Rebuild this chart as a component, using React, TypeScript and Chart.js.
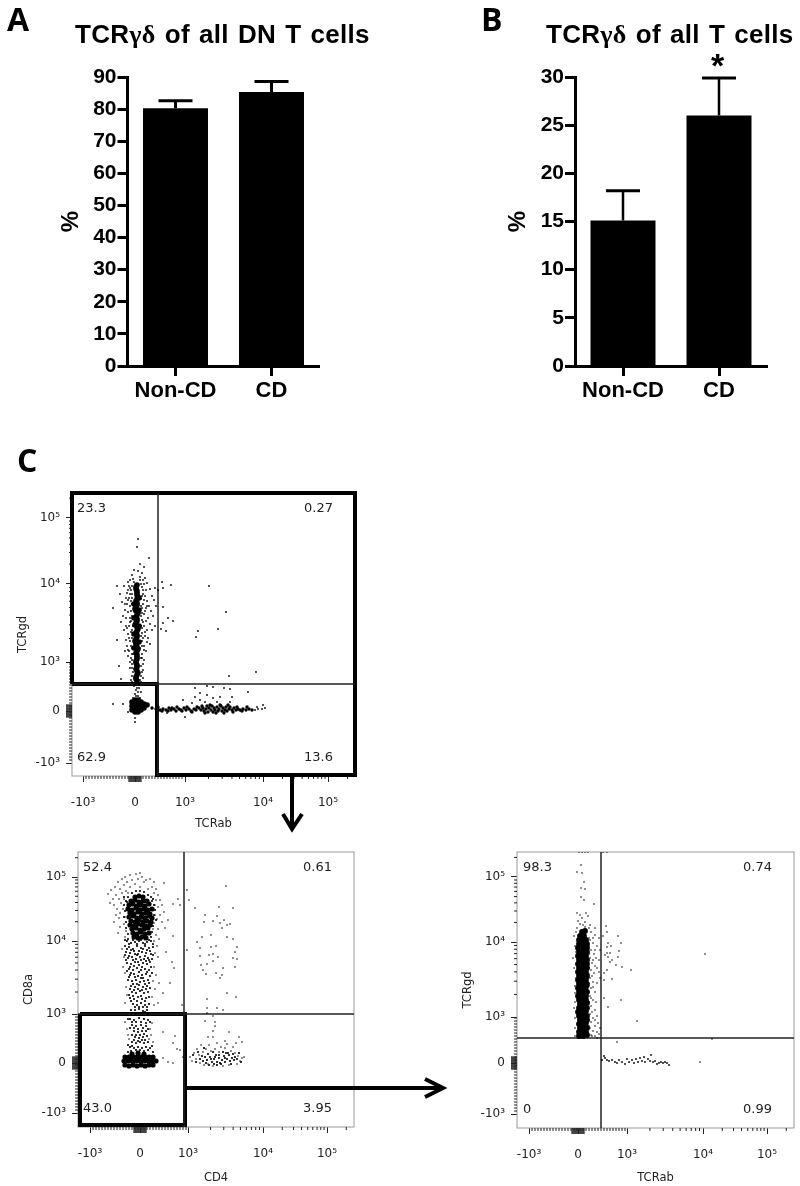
import React, { useEffect, useRef } from "react";
import { Chart, registerables } from "chart.js";

Chart.register(...registerables);

/* ---------- bar panels ---------- */
const barCategories = ["Non-CD", "CD"];
const panelAValues = [80.3, 85.3];
const panelAUpper = [82.6, 88.6];
const panelATicks = [0, 10, 20, 30, 40, 50, 60, 70, 80, 90];
const panelBValues = [15.1, 26.0];
const panelBUpper = [18.2, 29.9];
const panelBTicks = [0, 5, 10, 15, 20, 25, 30];

/* ---------- flow panels: values are display channels on the biexponential axes ---------- */
const flowTickLabels = ["-10³", "0", "10³", "10⁴", "10⁵"];
const p1XTicks = [11, 63, 113, 191, 256];
const p1YTicks = [13, 65, 114, 192, 258];
const p2XTicks = [12, 62, 110, 185, 249];
const p2YTicks = [14, 64, 113, 186, 250];
const p3XTicks = [12, 61, 110, 186, 250];
const p3YTicks = [14, 65, 111, 186, 251];

const p1QuadLabels = ["23.3", "0.27", "62.9", "13.6"];
const p2QuadLabels = ["52.4", "0.61", "43.0", "3.95"];
const p3QuadLabels = ["98.3", "0.74", "0", "0.99"];

const p1Core = [
  [65,95],[64,99],[66,103],[64,107],[65,111],[64,115],[65,119],[64,123],[66,127],[64,131],[63,135],[65,139],[64,143],[66,147],[63,151],[65,155],[64,159],[66,163],[63,167],[65,171],[64,175],[66,179],[65,183],[64,187],
  [64,97],[65,101],[65,105],[65,109],[64,113],[65,117],[65,121],[65,125],[65,129],[64,133],[64,137],[65,141],[65,145],[65,149],[64,153],[65,157],[65,161],[64,165],[64,169],[65,173],[65,177],[65,181],[65,185],[64,189],[65,191],
  [62,128],[67,134],[62,142],[67,150],[62,158],[67,166],[62,172],[67,178],
  [60,66],[60,70],[60,74],[63,64],[63,68],[63,72],[63,76],[66,64],[66,68],[66,72],[66,76],[69,66],[69,70],[69,74],[72,68],[72,72],[75,71],
];
const p1Tail = [
  [80,68],[84,67],[88,66],[91,67],[94,66],[97,68],[99,66],[102,67],[104,65],[107,67],[109,66],[112,68],[114,66],[117,67],[119,65],[122,67],[124,66],[127,68],[129,66],[131,68],[132,65],[134,67],[135,70],[136,64],[137,68],[139,66],[140,70],[141,64],[142,68],[143,66],[145,69],[146,65],[147,67],[149,70],[150,65],[151,68],[153,66],[154,69],[155,65],[157,67],[158,69],[160,66],[162,68],[164,66],[166,67],[168,66],[171,67],[174,66],[177,67],[180,66],
  [86,69],[90,65],[96,65],[100,68],[105,69],[110,65],[115,69],[120,64],[125,69],[130,70],[133,63],[138,71],[144,63],[148,71],[152,63],[156,71],[161,64],[165,69],[170,65],[175,69],
];
const p1Sparse = [
  [66,237],[65,229],[77,218],[45,190],[41,168],[45,136],[47,110],[49,97],[90,194],[91,188],[99,191],[137,190],[154,164],[146,147],[126,145],[124,139],[91,169],[91,153],[96,158],[101,155],[89,147],[94,145],[157,100],[184,104],
  [123,88],[135,90],[141,89],[152,88],[158,87],[176,84],[128,83],[135,81],[141,78],[148,79],[160,79],[123,79],[128,76],[133,74],[145,74],[158,74],[111,76],[120,73],
  [41,72],[51,72],[56,64],[63,54],[63,58],[191,71],[193,68],[185,69],[190,67],[113,59],[95,63],[85,64],[183,66],[186,67],
  [52,190],[56,186],[58,196],[60,201],[70,203],[73,198],[75,193],[78,187],[72,209],[62,206],[68,212],[66,205],[57,178],[55,172],[53,166],[51,160],[50,174],[49,154],[54,150],[52,146],[56,142],[58,158],[59,165],[57,150],[60,182],[60,172],[71,186],[73,180],[75,175],[77,170],[79,165],[81,160],[74,168],[72,162],[71,172],[76,158],[78,152],[80,146],[83,150],[75,146],[72,150],[70,156],[82,176],[84,170],[86,186],[80,180],[83,188],[58,135],[55,130],[53,125],[57,125],[60,128],[59,118],[56,120],[61,142],[61,150],[60,112],[58,108],[61,104],[70,135],[72,130],[74,125],[76,138],[78,132],[70,122],[72,116],[69,110],[71,106],[69,100],[68,96],[62,98],[60,94],[70,143],[73,140],[62,90],[64,86],[67,88],[69,84],[63,82],[66,80],[68,78],[61,78],
  [55,183],[58,188],[54,178],[59,175],[48,182],[69,192],[71,196],[68,199],[62,194],[60,190],[70,180],[69,170],[70,163],[59,155],[60,146],[60,138],[69,150],[69,140],[68,128],[61,122],[60,116],[69,118],[67,92],
  [56,194],[61,197],[68,196],[72,192],[57,190],[59,186],[70,189],[74,186],[58,182],[71,182],[56,176],[72,176],[60,178],[69,177],[53,172],[75,170],[58,170],[70,168],[56,164],[73,165],[60,160],[69,160],[54,158],[74,155],[58,154],[71,154],[55,148],[70,148],[59,144],[73,144],[57,138],[71,138],[54,136],[75,134],[59,130],[70,130],[56,126],[72,126],[60,122],[70,118],[58,114],[71,112],[60,108],[70,104],[60,100],[71,98],[59,96],[69,94],[63,92],[67,92],[65,88],[66,84],[64,80],
];

const p2Core = [
  [57,230],[61,231],[65,230],[53,226],[57,227],[61,225],[65,226],[69,226],[51,222],[55,223],[59,221],[63,222],[67,221],[71,223],[50,218],[54,217],[58,219],[62,217],[66,218],[70,217],[74,218],[52,214],[56,213],[60,215],[64,213],[68,214],[72,213],[51,210],[55,211],[59,209],[63,210],[67,209],[71,211],[74,209],[53,206],[57,205],[61,207],[65,205],[69,206],[73,205],[52,202],[56,201],[60,203],[64,202],[68,201],[72,202],[54,198],[58,199],[62,197],[66,198],[70,199],[55,194],[59,193],[63,195],[67,193],[71,194],[56,190],[60,189],[64,190],[68,189],
  [47,62],[51,61],[55,62],[59,61],[63,62],[67,61],[71,62],[75,62],[46,66],[50,66],[54,66],[58,66],[62,66],[66,66],[70,66],[74,66],[78,66],[47,70],[51,70],[55,70],[59,70],[63,70],[67,70],[71,70],[75,70],[54,73],[60,74],[66,73],
];
const p2Mid = [
  [49,186],[53,184],[57,185],[61,186],[65,184],[69,185],[73,186],[47,181],[51,180],[55,178],[59,181],[63,179],[67,181],[71,179],[75,180],[48,175],[52,174],[56,176],[60,173],[64,175],[68,174],[72,176],[50,169],[54,170],[58,168],[62,170],[66,168],[70,169],[74,168],[49,164],[53,163],[57,165],[61,162],[65,164],[69,163],[72,165],[51,158],[55,157],[59,159],[63,157],[67,158],[71,157],[52,152],[56,153],[60,151],[64,152],[68,153],[72,151],[50,147],[54,146],[58,147],[62,145],[66,146],[70,147],[53,141],[57,140],[61,142],[65,140],[69,141],[54,135],[58,134],[62,136],[66,134],[70,135],[52,129],[56,128],[60,130],[64,128],[68,129],[55,123],[59,122],[63,124],[67,122],[71,123],[53,117],[57,117],[61,118],[65,116],[69,117],
  [52,108],[56,107],[61,109],[66,108],[70,107],[54,102],[58,101],[63,102],[68,101],[56,96],[60,95],[64,96],[68,96],[57,90],[61,89],[65,90],[54,85],[58,84],[62,85],[66,84],[70,85],[52,80],[56,79],[60,80],[64,79],[68,80],[72,79],[50,75],[75,75],
  [129,67],[132,70],[134,65],[136,68],[138,72],[139,65],[141,69],[142,64],[144,67],[146,71],[147,65],[149,68],[151,72],[152,66],[154,69],[156,67],[127,70],[125,66],[148,74],[136,63],
  [47,187],[51,183],[55,187],[59,183],[63,187],[67,183],[71,187],[75,183],[49,178],[53,177],[57,173],[61,176],[65,178],[69,177],[73,173],[47,172],[51,171],[55,167],[59,172],[63,167],[67,171],[71,167],[75,172],[48,167],[52,160],[56,161],[60,165],[64,160],[68,166],[73,160],[49,156],[53,154],[57,150],[61,155],[65,149],[69,155],[74,154],[51,150],[55,143],[59,143],[63,149],[67,143],[71,144],[52,138],[56,137],[60,138],[64,137],[68,138],[72,139],[51,132],[55,131],[59,126],[63,131],[67,126],[71,130],[53,126],[57,120],[61,120],[65,120],[69,120],[54,114],[63,114],[67,115],[70,113],[58,114],
  [50,108],[54,105],[58,105],[63,105],[68,104],[72,105],[52,99],[56,99],[60,98],[65,99],[70,98],[54,92],[58,92],[62,92],[66,93],[69,91],[56,87],[60,86],[64,87],[67,87],[50,82],[54,81],[58,77],[62,77],[66,76],[70,77],[74,81],[53,76],
  [46,230],[48,226],[46,222],[47,216],[46,210],[48,205],[48,199],[50,193],[50,188],[74,226],[76,222],[77,217],[76,212],[78,207],[75,201],[74,195],[73,190],[50,230],[54,234],[58,236],[62,236],[66,235],[70,232],[73,230],[49,225],[75,228],
  [115,72],[118,65],[120,75],[122,68],[124,71],[126,79],[128,64],[130,73],[131,62],[133,68],[135,75],[137,70],[139,62],[141,72],[143,63],[145,75],[147,69],[150,74],[153,63],[155,73],[157,70],[159,68],[161,74],[163,65],
];
const p2Sparse = [
  [148,241],[155,219],[141,220],[127,212],[139,211],[146,207],[135,206],[126,205],[142,204],[152,203],[149,202],[144,199],[124,190],[133,192],[149,190],[155,188],[119,185],[133,180],[138,181],[159,180],[122,179],[157,175],[135,173],[131,172],[122,171],[140,170],[159,168],[155,169],[123,162],[135,166],[129,163],[145,159],[157,160],[125,157],[128,153],[138,154],[144,152],[142,149],[149,134],[158,130],[129,128],[139,119],[145,117],[129,119],[129,114],[135,111],[127,106],[137,105],[137,101],[135,96],[151,95],[161,90],[164,85],[130,90],[135,90],
  [109,237],[111,227],[117,219],[100,228],[95,223],[102,222],[86,244],[90,207],[87,199],[95,191],[109,177],[88,175],[94,165],[96,159],[81,144],[92,144],[85,134],[80,124],[104,122],[85,95],[97,91],[95,84],[102,77],[99,78],[85,69],[95,64],[90,65],[105,70],
  [33,237],[30,233],[35,228],[32,224],[37,240],[38,232],[36,222],[40,245],[42,238],[41,228],[39,218],[44,248],[46,242],[44,234],[43,224],[42,214],[41,209],[47,250],[49,245],[48,236],[46,228],[45,218],[52,252],[54,247],[52,240],[50,234],[58,253],[60,248],[57,243],[62,254],[64,250],[66,245],[62,240],[68,247],[72,248],[76,245],[74,240],[70,238],[78,238],[76,234],[80,232],[82,227],[78,227],[84,222],[80,220],[77,222],[82,212],[79,208],[84,205],[86,215],[77,212],[76,204],[80,198],[75,198],[38,212],[36,205],[42,200],[40,194],[47,210],[46,203],[48,196],[47,190],[78,192],[81,188],[76,186],[79,181],[77,174],[80,170],[44,178],[46,170],[45,160],[47,154],[76,160],[78,152],[75,146],[77,138],[48,140],[49,132],[47,124],[74,130],[76,122],[74,114],
  [47,105],[49,98],[50,92],[74,104],[72,98],[73,92],[71,88],[51,88],[75,85],[112,70],[114,66],[116,74],[118,68],[119,78],[121,72],[122,64],[123,82],[125,75],[126,62],[128,78],[130,63],[131,82],[133,76],[135,61],[137,78],[139,84],[141,75],[143,80],[145,61],[147,79],[149,83],[151,62],[153,76],[155,80],[157,74],[159,63],[160,71],[162,66],[164,69],[166,70],[158,84],[147,86],
];

const p3Core = [
  [62,92],[66,92],[70,93],[62,96],[66,97],[69,96],[63,100],[66,101],[70,100],[62,104],[66,104],[69,105],[63,108],[67,109],[70,108],[62,112],[66,113],[70,112],[61,116],[65,116],[69,117],[62,120],[66,121],[70,120],[63,124],[67,124],[70,125],[62,128],[66,129],[69,128],[61,132],[65,133],[69,132],[62,136],[66,137],[70,136],[61,140],[65,140],[69,141],[62,144],[66,145],[70,144],[61,148],[65,149],[69,148],[62,152],[66,153],[70,152],[61,156],[65,157],[69,156],[62,160],[66,161],[70,160],[61,164],[66,165],[70,164],[62,168],[66,169],[70,168],[61,172],[65,173],[69,172],[62,176],[66,177],[70,176],[61,180],[66,181],[70,180],[62,184],[66,185],[70,184],[62,188],[66,189],[69,188],[63,192],[67,192],[65,196],[68,197],
];
const p3Sparse = [
  [64,263],[60,256],[65,255],[67,246],[64,240],[68,239],[64,231],[67,228],[77,224],[60,215],[63,213],[69,215],[71,212],[65,210],[61,207],[68,206],[73,203],[78,200],[66,203],[62,276],[65,276],[68,276],[71,276],[86,276],[90,276],
  [89,202],[90,196],[101,192],[86,192],[104,185],[91,185],[94,182],[90,181],[102,177],[93,175],[88,173],[90,175],[91,171],[101,171],[93,166],[95,168],[99,163],[105,161],[114,158],[90,158],[87,155],[95,149],[87,148],[87,130],
  [188,174],[120,107],[104,128],[91,121],[100,86],[195,89],[183,66],
  [74,196],[78,193],[82,190],[73,188],[76,185],[80,182],[83,178],[74,178],[77,174],[73,170],[79,170],[82,168],[75,165],[80,160],[74,158],[77,155],[82,156],[83,150],[73,150],[76,146],[80,145],[74,140],[78,136],[73,132],[76,128],[74,122],[78,118],[73,114],[80,112],[76,110],[74,106],[81,105],[78,102],[73,100],[76,97],[80,96],[83,100],[82,94],[74,93],[78,92],[58,110],[57,120],[58,135],[56,170],[58,182],[57,192],[59,150],[58,100],[59,196],[72,200],
  [72,190],[76,190],[72,182],[78,178],[72,174],[76,168],[72,160],[78,162],[72,154],[75,152],[72,142],[76,141],[72,136],[74,130],[79,126],[72,126],[75,116],[72,108],[78,108],[72,102],[75,92],[80,90],[58,126],[58,142],[57,160],[59,176],[58,92],[60,200],[63,204],[68,201],
];
const p3Tail = [
  [85,68],[87,72],[88,70],[90,68],[92,67],[95,68],[98,66],[100,65],[102,68],[105,66],[108,64],[110,69],[112,66],[115,68],[117,65],[119,69],[121,66],[123,70],[125,67],[127,71],[128,66],[131,69],[133,67],[134,73],[136,66],[138,67],[140,64],[142,65],[144,66],[146,65],[148,66],[150,65],[152,63],
];

const PANEL_FONT = '"Liberation Sans", Arial, sans-serif';
const FLOW_FONT = '"DejaVu Sans", sans-serif';

type BarProps = {
  left: number; width: number; axisLeft: number; values: number[]; upper: number[]; ticks: number[];
  max: number; titlePad: number; capHalf: number; stem: number;
};

function BarPanel({ left, width, axisLeft, values, upper, ticks, max, titlePad, capHalf, stem }: BarProps) {
  const ref = useRef<HTMLCanvasElement>(null);
  useEffect(() => {
    const errorBars = {
      id: "errorBars",
      afterDatasetsDraw(chart: any) {
        const { ctx, scales } = chart;
        const meta = chart.getDatasetMeta(0);
        ctx.save();
        ctx.strokeStyle = "#000";
        upper.forEach((u, i) => {
          const x = meta.data[i].x;
          const yTop = scales.y.getPixelForValue(u);
          const yBar = scales.y.getPixelForValue(values[i]);
          ctx.lineWidth = stem;
          ctx.beginPath(); ctx.moveTo(x, yBar); ctx.lineTo(x, yTop); ctx.stroke();
          ctx.lineWidth = 3;
          ctx.beginPath(); ctx.moveTo(x - capHalf, yTop); ctx.lineTo(x + capHalf, yTop); ctx.stroke();
        });
        ctx.restore();
      },
    };
    const chart = new Chart(ref.current!, {
      type: "bar",
      data: {
        labels: barCategories,
        datasets: [{ data: values, backgroundColor: "#000", barPercentage: 0.677, categoryPercentage: 1 }],
      },
      plugins: [errorBars],
      options: {
        animation: false,
        responsive: false,
        events: [],
        layout: { padding: { top: 77, right: width - axisLeft - 192, left: 0, bottom: 0 } },
        plugins: { legend: { display: false }, tooltip: { enabled: false } },
        scales: {
          x: {
            afterFit(s: any) { s.height = 44; },
            grid: { offset: false, drawOnChartArea: false, tickLength: 10, tickWidth: 3, tickColor: "#000" },
            border: { color: "#000", width: 3 },
            ticks: { color: "#000", padding: 2, maxRotation: 0, font: { family: PANEL_FONT, weight: "bold", size: 22 } },
          },
          y: {
            min: 0, max,
            afterFit(s: any) { s.width = axisLeft; },
            afterBuildTicks(s: any) { s.ticks = ticks.map((value) => ({ value })); },
            grid: { drawOnChartArea: false, tickLength: 10, tickWidth: 3, tickColor: "#000" },
            border: { color: "#000", width: 3 },
            ticks: { color: "#000", padding: 1, autoSkip: false, font: { family: PANEL_FONT, weight: "bold", size: 21 } },
            title: { display: true, text: "%", color: "#000", padding: { top: titlePad, bottom: 0 }, font: { family: PANEL_FONT, weight: "bold", size: 24 } },
          },
        },
      } as any,
    });
    return () => chart.destroy();
  }, []);
  return <canvas ref={ref} width={width} height={410} style={{ position: "absolute", left, top: 0, width, height: 410 }} />;
}

const LOG_FRACTIONS = [0.301, 0.477, 0.602, 0.699, 0.778, 0.845, 0.903, 0.954];

function minorTicks(major: number[]) {
  const [neg, zero, k3, k4, k5] = major;
  const out: { v: number; len: number; w: number }[] = [];
  for (let v = neg + 3; v < k3; v += 3) out.push({ v, len: 3, w: 1 });
  for (let v = zero - 6; v <= zero + 6; v += 1) out.push({ v, len: 6, w: 1.2 });
  LOG_FRACTIONS.forEach((f) => {
    out.push({ v: k3 + f * (k4 - k3), len: 3, w: 1 });
    out.push({ v: k4 + f * (k5 - k4), len: 3, w: 1 });
  });
  out.push({ v: k5 + 0.301 * (k5 - k4), len: 3, w: 1 });
  return out;
}

type FlowProps = {
  left: number; top: number; size: [number, number]; canvasW: number; canvasH: number;
  xTicks: number[]; yTicks: number[]; quad: [number, number]; quadLabels: string[];
  labelSpots: number[][]; xTitle: string; yTitle: string;
  gate?: number[][]; dots: { points: number[][]; radius: number }[];
};

function FlowPanel({ left, top, size, canvasW, canvasH, xTicks, yTicks, quad, quadLabels, labelSpots, xTitle, yTitle, gate, dots }: FlowProps) {
  const ref = useRef<HTMLCanvasElement>(null);
  useEffect(() => {
    const [w, h] = size;
    const decor = {
      id: "flowDecor",
      beforeDatasetsDraw(chart: any) {
        const { ctx, chartArea: a, scales } = chart;
        ctx.save();
        ctx.strokeStyle = "#999";
        ctx.lineWidth = 1;
        ctx.strokeRect(a.left, a.top, a.width, a.height);
        ctx.strokeStyle = "#222";
        minorTicks(xTicks).forEach((t) => {
          const px = scales.x.getPixelForValue(t.v);
          ctx.lineWidth = t.w;
          ctx.beginPath(); ctx.moveTo(px, a.bottom); ctx.lineTo(px, a.bottom + t.len); ctx.stroke();
        });
        minorTicks(yTicks).forEach((t) => {
          const py = scales.y.getPixelForValue(t.v);
          ctx.lineWidth = t.w;
          ctx.beginPath(); ctx.moveTo(a.left, py); ctx.lineTo(a.left - t.len, py); ctx.stroke();
        });
        ctx.restore();
      },
      afterDatasetsDraw(chart: any) {
        const { ctx, scales } = chart;
        ctx.save();
        ctx.font = `13px ${FLOW_FONT}`;
        ctx.fillStyle = "#222";
        ctx.textBaseline = "middle";
        quadLabels.forEach((t, i) => {
          ctx.textAlign = labelSpots[i][2] ? "right" : "left";
          ctx.fillText(t, scales.x.getPixelForValue(labelSpots[i][0]), scales.y.getPixelForValue(labelSpots[i][1]));
        });
        ctx.restore();
      },
    };
    const datasets: any[] = dots.map((d) => ({
      data: d.points.map(([x, y]) => ({ x, y })),
      pointRadius: d.radius,
      pointBorderWidth: 0,
      pointBackgroundColor: "#000",
      showLine: false,
    }));
    const line = (pts: number[][], width: number, color: string) => ({
      data: pts.map(([x, y]) => ({ x, y })),
      showLine: true, pointRadius: 0, borderColor: color, borderWidth: width,
      borderJoinStyle: "miter", borderCapStyle: "butt", clip: false, tension: 0,
    });
    datasets.push(line([[quad[0], 0], [quad[0], h]], 1.5, "#222"));
    datasets.push(line([[0, quad[1]], [w, quad[1]]], 1.5, "#222"));
    if (gate) datasets.push(line(gate, 4, "#000"));
    const axis = (ticks: number[], max: number, title: string, isX: boolean) => ({
      type: "linear", min: 0, max,
      afterFit(s: any) { if (isX) s.height = canvasH - 15 - h; else s.width = 70; },
      afterBuildTicks(s: any) { s.ticks = ticks.map((value) => ({ value })); },
      grid: { drawOnChartArea: false, tickLength: 6, tickColor: "#222", tickWidth: 1 },
      border: { display: false },
      ticks: {
        color: "#222", autoSkip: false, maxRotation: 0, minRotation: 0, padding: isX ? 14 : 6,
        font: { family: FLOW_FONT, size: 12 },
        callback: (v: number) => { const i = ticks.indexOf(v); return i >= 0 ? flowTickLabels[i] : ""; },
      },
      title: {
        display: true, text: title, color: "#222",
        padding: isX ? { top: 0, bottom: 3 } : { top: 14, bottom: 0 },
        font: { family: FLOW_FONT, size: 11.5 },
      },
    });
    const chart = new Chart(ref.current!, {
      type: "scatter",
      data: { datasets },
      plugins: [decor],
      options: {
        animation: false,
        responsive: false,
        events: [],
        layout: { padding: { top: 15, right: canvasW - 70 - w, left: 0, bottom: 0 } },
        plugins: { legend: { display: false }, tooltip: { enabled: false } },
        scales: { x: axis(xTicks, w, xTitle, true), y: axis(yTicks, h, yTitle, false) },
      } as any,
    });
    return () => chart.destroy();
  }, []);
  return (
    <canvas ref={ref} width={canvasW} height={canvasH}
      style={{ position: "absolute", left: left - 70, top: top - 15, width: canvasW, height: canvasH, filter: "blur(0.35px)" }} />
  );
}

const letterStyle: React.CSSProperties = {
  position: "absolute", fontFamily: '"Open Sans", "Noto Sans", sans-serif', fontWeight: 700, fontSize: 32, lineHeight: "32px", color: "#000",
};
const titleStyle: React.CSSProperties = {
  position: "absolute", top: 19, fontFamily: PANEL_FONT, fontWeight: 700, fontSize: 26, lineHeight: "30px", color: "#000", whiteSpace: "nowrap", letterSpacing: 0.3, wordSpacing: 1.6,
};
const greek: React.CSSProperties = { fontFamily: '"Liberation Serif", serif', fontWeight: 700 };

export default function App() {
  return (
    <div style={{ position: "absolute", left: 0, top: 0, width: 800, height: 1186, background: "#fff", overflow: "hidden" }}>
      <BarPanel left={0} width={400} axisLeft={127.5} values={panelAValues} upper={panelAUpper} ticks={panelATicks} max={90} titlePad={57} capHalf={17} stem={3} />
      <BarPanel left={400} width={400} axisLeft={175} values={panelBValues} upper={panelBUpper} ticks={panelBTicks} max={30} titlePad={104} capHalf={17} stem={2.5} />
      <FlowPanel left={72} top={493} size={[283, 283]} canvasW={370} canvasH={356}
        xTicks={p1XTicks} yTicks={p1YTicks} quad={[86, 92]} quadLabels={p1QuadLabels}
        labelSpots={[[5, 267, 0], [261, 267, 1], [5, 18, 0], [261, 18, 1]]} xTitle="TCRab" yTitle="TCRgd"
        gate={[[0, 92], [0, 283], [283, 283], [283, 1], [85, 1], [85, 92], [0, 92]]}
        dots={[{ points: p1Sparse, radius: 0.9 }, { points: p1Tail, radius: 1.7 }, { points: p1Core, radius: 2.8 }]} />
      <FlowPanel left={78} top={852} size={[276, 275]} canvasW={370} canvasH={351}
        xTicks={p2XTicks} yTicks={p2YTicks} quad={[106, 113]} quadLabels={p2QuadLabels}
        labelSpots={[[5, 259, 0], [254, 259, 1], [5, 18, 0], [254, 18, 1]]} xTitle="CD4" yTitle="CD8a"
        gate={[[2, 113], [107, 113], [107, 2], [2, 2], [2, 113]]}
        dots={[{ points: p2Sparse, radius: 0.8 }, { points: p2Mid, radius: 1.1 }, { points: p2Core, radius: 2.6 }]} />
      <FlowPanel left={517} top={852} size={[277, 276]} canvasW={353} canvasH={351}
        xTicks={p3XTicks} yTicks={p3YTicks} quad={[84, 90]} quadLabels={p3QuadLabels}
        labelSpots={[[6, 260, 0], [255, 260, 1], [6, 18, 0], [255, 18, 1]]} xTitle="TCRab" yTitle="TCRgd"
        dots={[{ points: p3Sparse, radius: 0.8 }, { points: p3Tail, radius: 0.9 }, { points: p3Core, radius: 2.9 }]} />
      <svg width={800} height={1186} style={{ position: "absolute", left: 0, top: 0, pointerEvents: "none" }}>
        <g fill="none" stroke="#000" strokeWidth={4}>
          <path d="M292 776V829M283 814L292 829L302 814" />
          <path d="M186 1088H442M425 1079L443 1088L425 1097" />
        </g>
      </svg>
      <div style={{ ...letterStyle, left: 7, top: 3 }}>A</div>
      <div style={{ ...letterStyle, left: 481, top: 3 }}>B</div>
      <div style={{ ...letterStyle, left: 17, top: 444 }}>C</div>
      <div style={{ ...titleStyle, left: 75 }}>TCR<span style={greek}>γδ</span> of all DN T cells</div>
      <div style={{ ...titleStyle, left: 546 }}>TCR<span style={greek}>γδ</span> of all T cells</div>
      <div style={{ position: "absolute", left: 711, top: 47, fontFamily: PANEL_FONT, fontWeight: 700, fontSize: 34, lineHeight: "36px", color: "#000" }}>*</div>
    </div>
  );
}
